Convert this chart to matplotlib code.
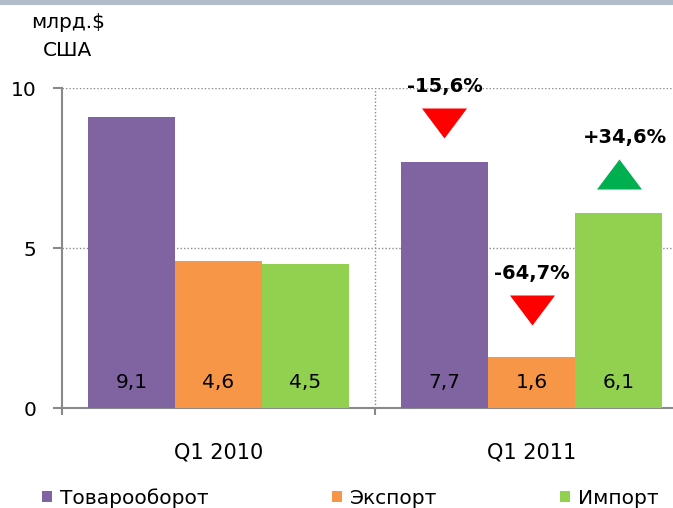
import numpy as np
import matplotlib.pyplot as plt
from matplotlib.path import Path
from matplotlib.patches import Rectangle

plt.rcParams['font.family'] = ['DejaVu Sans']

# данные
periods = ['Q1 2010', 'Q1 2011']
series = ['Товарооборот', 'Экспорт', 'Импорт']
turnover = [9.1, 7.7]
export = [4.6, 1.6]
imports = [4.5, 6.1]
change_2011 = [-15.6, -64.7, 34.6]
colors = ['#8064A2', '#F79646', '#92D050']

W, H = 673, 508
fig = plt.figure(figsize=(W / 100, H / 100), dpi=100)
fig.patch.set_facecolor('white')
fig.patches.append(Rectangle((0, 1 - 5 / H), 1, 5 / H, transform=fig.transFigure,
                             facecolor='#b3bdca', edgecolor='none'))

ax = fig.add_axes([62 / W, 100 / H, 626 / W, 320 / H])
x = np.arange(len(periods))
width = 0.278
values = [turnover, export, imports]
for i, (name, vals) in enumerate(zip(series, values)):
    pos = x + (i - 1) * width
    ax.bar(pos, vals, width, color=colors[i], label=name, zorder=3)
    for px, v in zip(pos, vals):
        ax.text(px, 0.8, ('%.1f' % v).replace('.', ','), ha='center', va='center',
                fontsize=14.5, zorder=4)

# стрелки изменения
tri_down = Path([(-1, 0.667), (1, 0.667), (0, -0.667), (-1, 0.667)],
                [Path.MOVETO, Path.LINETO, Path.LINETO, Path.CLOSEPOLY])
tri_up = Path([(-1, -0.667), (1, -0.667), (0, 0.667), (-1, -0.667)],
              [Path.MOVETO, Path.LINETO, Path.LINETO, Path.CLOSEPOLY])
gaps = [1.2, 1.45, 1.2]
for i, ch in enumerate(change_2011):
    px = x[1] + (i - 1) * width
    ym = values[i][1] + gaps[i]
    if ch < 0:
        ax.plot(px, ym, marker=tri_down, ms=32.4, color='#FF0000', mec='none',
                clip_on=False, zorder=5)
        lab = ('%.1f%%' % ch).replace('.', ',')
    else:
        ax.plot(px, ym, marker=tri_up, ms=32.4, color='#00B050', mec='none',
                clip_on=False, zorder=5)
        lab = ('+%.1f%%' % ch).replace('.', ',')
    ax.text(px + (0.02 if ch > 0 else 0), ym + 1.15, lab, ha='center', va='center',
            fontsize=14, fontweight='bold', clip_on=False, zorder=5)

ax.set_xlim(-0.5, 1.5)
ax.set_ylim(0, 10)
ax.set_yticks([0, 5, 10])
ax.set_yticklabels(['0', '5', '10'], fontsize=14.5)
ax.set_xticks(x)
ax.set_xticklabels(periods, fontsize=15)
ax.set_xticks([-0.5, 0.5, 1.5], minor=True)
ax.tick_params(axis='x', which='major', length=0, pad=25)
ax.tick_params(axis='x', which='minor', length=5, color='#898989', width=1.5)
ax.tick_params(axis='y', length=6.5, color='#898989', width=1.5, pad=12)

for s in ['top', 'right']:
    ax.spines[s].set_visible(False)
for s in ['left', 'bottom']:
    ax.spines[s].set_color('#898989')
    ax.spines[s].set_linewidth(1.5)

ax.yaxis.grid(True, linestyle=(0, (1, 1.5)), color='#8c8c8c', linewidth=1, zorder=0)
ax.axvline(0.5, linestyle=(0, (1, 1.5)), color='#8c8c8c', linewidth=1, zorder=0)

fig.text(68 / W, 1 - 22 / H, 'млрд.$', ha='center', va='center', fontsize=14.5)
fig.text(68 / W, 1 - 50 / H, 'США', ha='center', va='center', fontsize=14.5)

fig.legend(loc='center left', bbox_to_anchor=(42 / W, 1 - 498 / H), ncol=3,
           frameon=False, fontsize=14.5, handlelength=0.5, handleheight=0.5,
           handletextpad=0.4, columnspacing=6.1, borderpad=0, borderaxespad=0)

fig.savefig('out.png', dpi=100)
